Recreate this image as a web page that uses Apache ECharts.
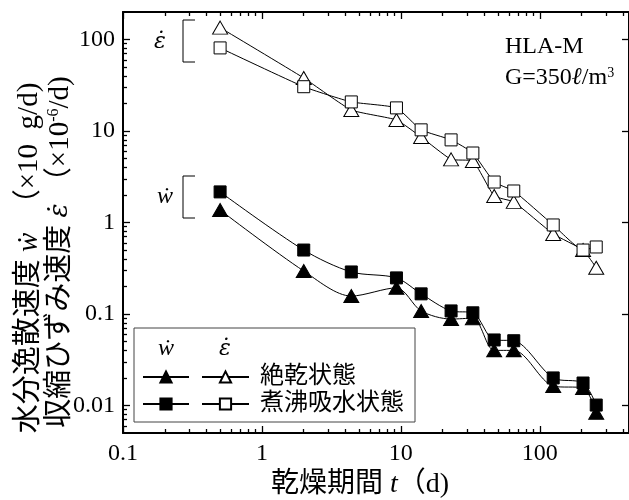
<!DOCTYPE html>
<html>
<head>
<meta charset="utf-8">
<script src="https://cdn.jsdelivr.net/npm/echarts@6/dist/echarts.min.js"></script>
<style>
    html, body {margin: 0; padding: 0; background: #fff;}
    #chart {width: 629px; height: 500px;}
</style>
</head>
<body>
<div id="chart"></div>
<script>
    // 乾燥期間 t (d)
    var days = [0.5, 2, 4.4, 9.3, 14, 23, 33, 47, 65, 125, 205, 255];
    // 収縮ひずみ速度 (×10^-6/d)
    var epsDry = [135, 38, 17, 13.2, 8.6, 4.9, 4.7, 1.95, 1.68, 0.75, 0.5, 0.32];
    var epsBoil = [81, 30.5, 20.8, 17.9, 10.3, 8.0, 5.75, 2.77, 2.21, 0.94, 0.5, 0.54];
    // 水分逸散速度 (×10 g/d)
    var wDry = [1.37, 0.295, 0.157, 0.193, 0.108, 0.088, 0.09, 0.04, 0.04, 0.0163, 0.0155, 0.0083];
    var wBoil = [2.16, 0.5, 0.288, 0.248, 0.166, 0.108, 0.103, 0.052, 0.051, 0.02, 0.0176, 0.0101];

    var xMajor = [0.1, 1, 10, 100];
    var yMajor = [0.01, 0.1, 1, 10, 100];

    var SERIF = "'Liberation Serif', 'Noto Sans CJK JP', serif";
    var EPS = "'DejaVu Serif', 'Liberation Serif', serif";

    function minors(lo, hi) {
        var out = [];
        for (var p = Math.floor(Math.log10(lo)) - 1; p <= Math.ceil(Math.log10(hi)); p++) {
            for (var k = 2; k <= 9; k++) {
                var v = +(k * Math.pow(10, p)).toPrecision(6);
                if (v > lo && v < hi) out.push(v);
            }
        }
        return out;
    }

    function pairs(vals) {
        return days.map(function (d, i) { return [d, vals[i]]; });
    }

    var xMin = 0.1, xMax = 439, yMin = 0.005, yMax = 200;

    function xAx(pos, ticks, len, line, labels) {
        return {
            type: 'log', min: xMin, max: xMax, position: pos,
            axisLine: {show: line, lineStyle: {color: '#000', width: 2}},
            axisTick: {show: true, inside: true, length: len, customValues: ticks, lineStyle: {color: '#000', width: 1.3}},
            axisLabel: labels ? {customValues: xMajor, fontSize: 24, fontFamily: SERIF, color: '#000', margin: 9} : {show: false},
            splitLine: {show: false}
        };
    }

    function yAx(pos, ticks, len, line, labels) {
        return {
            type: 'log', min: yMin, max: yMax, position: pos,
            axisLine: {show: line, lineStyle: {color: '#000', width: 2}},
            axisTick: {show: true, inside: true, length: len, customValues: ticks, lineStyle: {color: '#000', width: 1.3}},
            axisLabel: labels ? {customValues: yMajor, fontSize: 24, fontFamily: SERIF, color: '#000', margin: 8} : {show: false},
            splitLine: {show: false}
        };
    }

    function series(name, vals, symbol, size, filled, smooth) {
        return {
            name: name, type: 'line', data: pairs(vals), smooth: smooth,
            symbol: symbol, symbolSize: size, showAllSymbol: true,
            lineStyle: {color: '#000', width: 1},
            itemStyle: {color: filled ? '#000' : '#fff', borderColor: '#000', borderWidth: 1, opacity: 1},
            emphasis: {disabled: true}
        };
    }

    var chart = echarts.init(document.getElementById('chart'));
    var option = {
        animation: false,
        backgroundColor: '#fff',
        grid: {left: 123, top: 12, width: 510, height: 421, containLabel: false},
        xAxis: [
            xAx('bottom', xMajor, 7, true, true),
            xAx('bottom', minors(xMin, xMax), 4, false, false),
            xAx('top', xMajor, 7, true, false),
            xAx('top', minors(xMin, xMax), 4, false, false)
        ],
        yAxis: [
            yAx('left', yMajor, 7, true, true),
            yAx('left', minors(yMin, yMax), 4, false, false),
            yAx('right', yMajor, 7, true, false)
        ],
        legend: [{
            data: ['絶乾状態 ẇ', '煮沸吸水状態 ẇ'],
            left: 142, top: 365, orient: 'vertical', padding: 0,
            itemWidth: 46, itemHeight: 14, itemGap: 3, selectedMode: false,
            formatter: function () { return ' '; },
            textStyle: {fontSize: 24, lineHeight: 24, fontFamily: SERIF}
        }, {
            data: ['絶乾状態', '煮沸吸水状態'],
            left: 201, top: 365, orient: 'vertical', padding: 0,
            itemWidth: 47, itemHeight: 14, itemGap: 3, selectedMode: false,
            textStyle: {fontSize: 24, lineHeight: 24, fontFamily: SERIF, color: '#000', padding: [0, 0, 0, 6]}
        }],
        graphic: [
            // 凡例の枠
            {type: 'rect', shape: {x: 134, y: 328, width: 281, height: 94}, style: {fill: '#fff', stroke: '#444', lineWidth: 1}, z: 1},
            {type: 'text', x: 166, y: 349, style: {text: 'ẇ', font: 'italic 24px ' + SERIF, fill: '#000', align: 'center', verticalAlign: 'middle'}, z: 5},
            {type: 'text', x: 225, y: 349, style: {text: 'ε̇', font: 'italic 22px ' + EPS, fill: '#000', align: 'center', verticalAlign: 'middle'}, z: 5},
            // ブラケット
            {type: 'polyline', shape: {points: [[195, 20], [183, 20], [183, 62], [195, 62]]}, style: {stroke: '#000', lineWidth: 1, fill: null}},
            {type: 'polyline', shape: {points: [[195, 176], [183, 176], [183, 218], [195, 218]]}, style: {stroke: '#000', lineWidth: 1, fill: null}},
            {type: 'text', x: 160, y: 42, style: {text: 'ε̇', font: 'italic 22px ' + EPS, fill: '#000', align: 'center', verticalAlign: 'middle'}},
            {type: 'text', x: 165, y: 197, style: {text: 'ẇ', font: 'italic 24px ' + SERIF, fill: '#000', align: 'center', verticalAlign: 'middle'}},
            // 試験体
            {type: 'text', x: 505, y: 47, style: {text: 'HLA-M', font: '24px ' + SERIF, fill: '#000', align: 'left', verticalAlign: 'middle'}},
            {type: 'text', x: 505, y: 78, style: {
                text: 'G=350{l|ℓ}/m{s|3}', font: '24px ' + SERIF, fill: '#000', align: 'left', verticalAlign: 'middle',
                rich: {l: {fontSize: 24, fontFamily: SERIF, fontStyle: 'italic'}, s: {fontSize: 14, fontFamily: SERIF, verticalAlign: 'top', lineHeight: 24}}
            }},
            // 軸タイトル
            {type: 'text', x: 360, y: 485, style: {
                text: '乾燥期間 {i|t}（d)', font: '28px ' + SERIF, fill: '#000', align: 'center', verticalAlign: 'middle',
                rich: {i: {fontSize: 28, fontFamily: SERIF, fontStyle: 'italic'}}
            }},
            {type: 'text', x: 29, y: 258, rotation: Math.PI / 2, style: {
                text: '水分逸散速度 {i|ẇ}  （×10  g/d)', font: '29px ' + SERIF, fill: '#000', align: 'center', verticalAlign: 'middle',
                rich: {i: {fontSize: 29, fontFamily: SERIF, fontStyle: 'italic'}}
            }},
            {type: 'text', x: 60, y: 252, rotation: Math.PI / 2, style: {
                text: '収縮ひずみ速度 {i|ε̇} （×10{s|-6}/d)', font: '29px ' + SERIF, fill: '#000', align: 'center', verticalAlign: 'middle',
                rich: {i: {fontSize: 26, fontFamily: EPS, fontStyle: 'italic'}, s: {fontSize: 16, fontFamily: SERIF, verticalAlign: 'top', lineHeight: 29}}
            }}
        ],
        series: [
            series('絶乾状態 ẇ', wDry, 'triangle', [15, 13], true, 0.3),
            series('煮沸吸水状態 ẇ', wBoil, 'rect', 12, true, 0.3),
            series('絶乾状態', epsDry, 'triangle', [15, 13], false, 0.15),
            series('煮沸吸水状態', epsBoil, 'rect', 12, false, 0.15)
        ]
    };
    chart.setOption(option);
</script>
</body>
</html>
